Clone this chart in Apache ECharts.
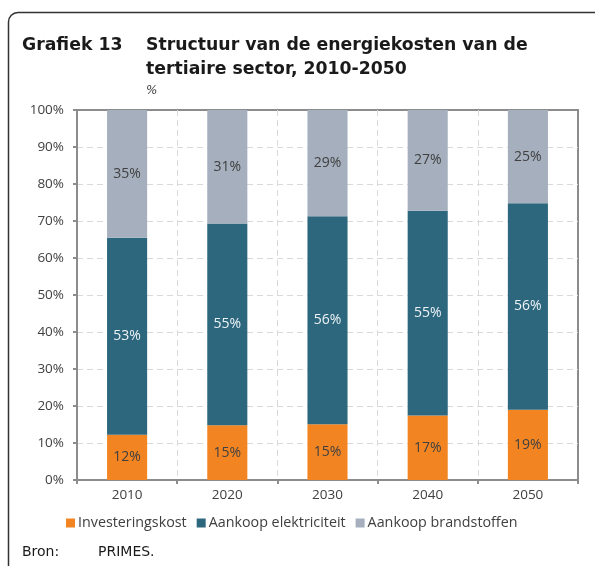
<!DOCTYPE html>
<html>
<head>
<meta charset="utf-8">
<title>Grafiek 13</title>
<script src="https://cdn.jsdelivr.net/npm/echarts@6/dist/echarts.min.js"></script>
<style>
  html, body { margin: 0; padding: 0; background: #fff; }
  #chart { width: 595px; height: 566px; }
</style>
</head>
<body>
<div id="chart"></div>
<script>
// data (share of total, %)
var years = ['2010', '2020', '2030', '2040', '2050'];
var investering = [12.2, 14.8, 15.1, 17.4, 19.0];
var elektriciteit = [53.3, 54.5, 56.2, 55.4, 55.8];
var brandstoffen = [34.5, 30.7, 28.7, 27.2, 25.2];
var seriesNames = ['Investeringskost', 'Aankoop elektriciteit', 'Aankoop brandstoffen'];
var colors = ['#f28522', '#2d677e', '#a5afbd'];

var textColor = '#404040';
var axisGray = '#8c8c8c';
var font = '"Open Sans", sans-serif';
var titleFont = 'bold 17.3px "DejaVu Sans", sans-serif';

var myChart = echarts.init(document.getElementById('chart'), null, { renderer: 'canvas' });

function barLabel(color) {
  return {
    show: true,
    position: 'inside',
    color: color,
    fontFamily: font,
    fontSize: 14,
    formatter: function (p) { return Math.round(p.value) + '%'; }
  };
}

var frameStyle = { fill: null, stroke: '#333', lineWidth: 1.5 };
// dashed grid lines, not drawn on the plot border
var dashed = {
  show: true, showMinLine: false, showMaxLine: false,
  lineStyle: { color: '#d9d9d9', type: [6, 4], width: 1 }
};

var option = {
  backgroundColor: '#fff',
  animation: false,
  color: colors,
  textStyle: { fontFamily: font },
  grid: {
    left: 77, right: 17, top: 110, bottom: 86,
    show: true, borderColor: axisGray, borderWidth: 2
  },
  legend: {
    data: seriesNames,
    left: 61, top: 511,
    icon: 'rect',
    itemWidth: 9, itemHeight: 9, itemGap: 10,
    textStyle: { color: textColor, fontSize: 14.3, fontFamily: font, padding: [0, 0, 0, -2] }
  },
  xAxis: {
    type: 'category',
    data: years,
    axisLine: { lineStyle: { color: axisGray, width: 2 } },
    axisTick: { show: true, length: 4, lineStyle: { color: axisGray, width: 2 } },
    axisLabel: { color: textColor, fontSize: 13.5, margin: 8, fontFamily: font },
    splitLine: dashed
  },
  yAxis: {
    type: 'value',
    min: 0, max: 100, interval: 10,
    axisLine: { show: true, lineStyle: { color: axisGray, width: 2 } },
    axisTick: { show: true, length: 4, lineStyle: { color: axisGray, width: 2 } },
    axisLabel: { color: textColor, fontSize: 13.5, margin: 13, fontFamily: font, formatter: '{value}%' },
    splitLine: dashed
  },
  series: [
    { name: seriesNames[0], type: 'bar', stack: 'tot', barWidth: '40%', data: investering, label: barLabel(textColor) },
    { name: seriesNames[1], type: 'bar', stack: 'tot', barWidth: '40%', data: elektriciteit, label: barLabel('#eef3f6') },
    { name: seriesNames[2], type: 'bar', stack: 'tot', barWidth: '40%', data: brandstoffen, label: barLabel(textColor) }
  ],
  graphic: [
    // frame: left and top edge with rounded corner
    { type: 'line', shape: { x1: 8.5, y1: 566, x2: 8.5, y2: 22 }, style: frameStyle },
    { type: 'line', shape: { x1: 18, y1: 12.5, x2: 595, y2: 12.5 }, style: frameStyle },
    { type: 'arc', shape: { cx: 18, cy: 22, r: 9.5, startAngle: Math.PI, endAngle: Math.PI * 1.5 }, style: frameStyle },
    {
      type: 'text', left: 22, top: 34,
      style: { text: 'Grafiek 13', fill: '#1a1a1a', font: titleFont, lineHeight: 24 }
    },
    {
      type: 'text', left: 146, top: 34,
      style: {
        text: 'Structuur van de energiekosten van de\ntertiaire sector, 2010-2050',
        fill: '#1a1a1a', font: titleFont, lineHeight: 24
      }
    },
    {
      type: 'text', left: 146, top: 85,
      style: { text: '%', fill: textColor, font: 'italic 12px "DejaVu Sans", sans-serif' }
    },
    {
      type: 'text', left: 22, top: 545,
      style: { text: 'Bron:', fill: '#1a1a1a', font: '14px "DejaVu Sans", sans-serif' }
    },
    {
      type: 'text', left: 98, top: 545,
      style: { text: 'PRIMES.', fill: '#1a1a1a', font: '14px "DejaVu Sans", sans-serif' }
    }
  ]
};

myChart.setOption(option);
</script>
</body>
</html>
